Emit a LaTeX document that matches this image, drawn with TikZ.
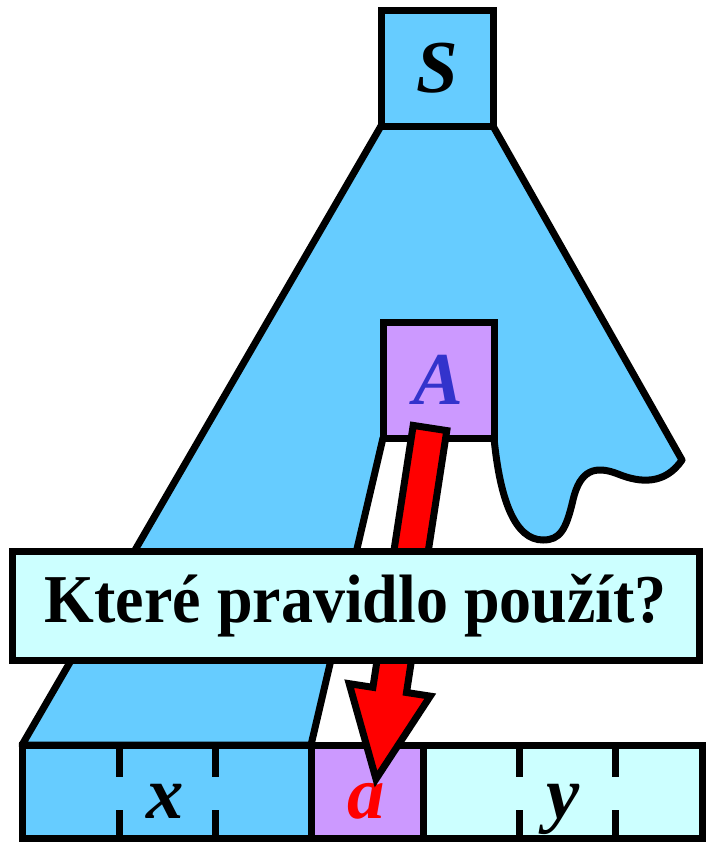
\documentclass[tikz,border=0pt]{standalone}
\usepackage{fontspec}
\setmainfont{Liberation Serif}
\usetikzlibrary{calc}

\definecolor{treeblue}{RGB}{102,204,255}
\definecolor{ntlilac}{RGB}{204,153,255}
\definecolor{palecyan}{RGB}{204,255,255}
\definecolor{letterblue}{RGB}{51,51,204}

\tikzset{
  edge/.style={draw=black, line width=5.25pt},
  symbox/.style={edge, rectangle, inner sep=0pt, minimum height=87pt},
  letter/.style={font=\fontsize{56}{60}\selectfont\bfseries\itshape, inner sep=0pt},
}

\begin{document}
\begin{tikzpicture}[x=0.75pt,y=0.75pt,yscale=-1,xscale=1]
\useasboundingbox (0,0) rectangle (708,843);

%Derivation tree
\draw [edge, fill=treeblue, line join=round] (381,126) -- (22,745) -- (311,745) -- (383,438) -- (494,438) .. controls (500,500) and (515,540) .. (543,540) .. controls (560,540) and (566,530) .. (573,500) .. controls (580,470) and (595,465) .. (618,474) .. controls (640,483) and (665,485) .. (682,460) -- (493,126) -- cycle ;

%Start symbol and nonterminal
\node [symbox, fill=treeblue, minimum width=84pt, letter] (start) at (437,68) {S};
\node [symbox, fill=ntlilac, minimum width=83.25pt, letter, text=letterblue] (nonterm) at (438.5,380) {A};

%Input word cells
\node [edge, fill=treeblue, minimum width=216.75pt, minimum height=69.75pt] (xcell) at (166.5,791.5) {};
\node [edge, fill=ntlilac, minimum width=84pt, minimum height=69.75pt] (acell) at (367,791.5) {};
\node [edge, fill=palecyan, minimum width=209.25pt, minimum height=69.75pt] (ycell) at (562.5,791.5) {};
\foreach \t in {119,215,519,615} {
  \draw [edge] (\t,745) -- (\t,777) ;
  \draw [edge] (\t,810) -- (\t,838) ;
}
\node [letter, anchor=base] (xlab) at (165,818) {x};
\node [letter, anchor=base, text=red] (alab) at (366,818) {a};
\node [letter, anchor=base] (ylab) at (563,818) {y};

%Red arrow from A down to a
\coordinate (tail) at (430,428);
\coordinate (tip) at (376,779);
\coordinate (base) at ($(tail)!198.75pt!(tip)$);
\draw [edge, fill=red, line join=miter] ($(tail)!12.75pt!90:(tip)$) -- ($(base)!12.75pt!90:(tip)$) -- ($(base)!30.75pt!90:(tip)$) -- (tip) -- ($(base)!30.75pt!-90:(tip)$) -- ($(base)!12.75pt!-90:(tip)$) -- ($(tail)!12.75pt!-90:(tip)$) -- cycle ;

%Question
\node [edge, fill=palecyan, minimum width=514.9pt, minimum height=81.75pt, inner sep=0pt, font=\fontsize{48}{56}\selectfont\bfseries] (question) at (355.75,605.5) {\scalebox{1}[1.07]{Které pravidlo použít?}};

\end{tikzpicture}
\end{document}
